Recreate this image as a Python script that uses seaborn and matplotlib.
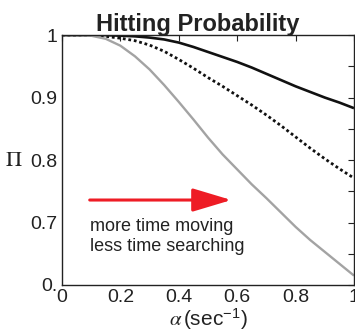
import numpy as np
import pandas as pd
import matplotlib
matplotlib.use("Agg")
import matplotlib.pyplot as plt
import seaborn as sns

alpha = [0.0, 0.05, 0.1, 0.15, 0.2, 0.25, 0.3, 0.35, 0.4, 0.45, 0.5,
         0.55, 0.6, 0.65, 0.7, 0.75, 0.8, 0.85, 0.9, 0.95, 1.0]
pi_solid = [1.0, 1.0, 1.0, 1.0, 0.999, 0.998, 0.996, 0.993, 0.988, 0.981, 0.973,
            0.965, 0.957, 0.948, 0.938, 0.928, 0.918, 0.909, 0.9, 0.892, 0.883]
pi_dotted = [1.0, 1.0, 1.0, 0.998, 0.995, 0.991, 0.984, 0.974, 0.961, 0.947, 0.932,
             0.918, 0.903, 0.888, 0.872, 0.855, 0.837, 0.819, 0.802, 0.786, 0.771]
pi_gray = [1.0, 1.0, 0.999, 0.994, 0.983, 0.966, 0.945, 0.92, 0.893, 0.865, 0.836,
           0.809, 0.785, 0.761, 0.739, 0.716, 0.693, 0.672, 0.653, 0.634, 0.615]

series_names = ["solid", "dotted", "gray"]
x_ticks = [0, 0.2, 0.4, 0.6, 0.8, 1]
x_tick_labels = ["0", "0.2", "0.4", "0.6", "0.8", "1"]
y_ticks = [0.6, 0.7, 0.8, 0.9, 1.0]
y_tick_labels = ["0.", "0.7", "0.8", "0.9", "1"]
y_minor = [0.65, 0.75, 0.85, 0.95]

title = "Hitting Probability"
annotation = "more time moving\nless time searching"

df = pd.DataFrame({
    "alpha": alpha * 3,
    "Pi": pi_solid + pi_dotted + pi_gray,
    "series": [s for s in series_names for _ in alpha],
})

sns.set_theme(style="white")
plt.rcParams["font.family"] = ["Liberation Sans", "DejaVu Sans"]
plt.rcParams["mathtext.fontset"] = "stix"

fig = plt.figure(figsize=(3.55, 3.31), dpi=100)
ax = fig.add_axes([0.1746, 0.139, 0.8226, 0.755])

palette = {"solid": "#111111", "dotted": "#111111", "gray": "#a3a3a3"}
sns.lineplot(data=df, x="alpha", y="Pi", hue="series", palette=palette,
             legend=False, ax=ax, estimator=None, sort=True)
lines = ax.get_lines()
styles = {"solid": ("-", 1.9), "dotted": ((0, (1.0, 1.0)), 2.0), "gray": ("-", 1.7)}
for ln, name in zip(lines, series_names):
    ls, lw = styles[name]
    ln.set_linestyle(ls)
    ln.set_linewidth(lw)
    ln.set_solid_capstyle("butt")
    ln.set_solid_joinstyle("round")

ax.set_xlim(0, 1)
ax.set_ylim(0.6, 1.0)
ax.set_xticks(x_ticks)
ax.set_xticklabels(x_tick_labels)
ax.set_yticks(y_ticks)
ax.set_yticklabels(y_tick_labels)
ax.set_yticks(y_minor, minor=True)
ax.tick_params(axis="both", which="both", direction="in", top=True, right=True,
               length=4, width=0.8, color="#222222", labelsize=14,
               labelcolor="#222222", pad=3.5)
ax.tick_params(axis="x", pad=3)
for sp in ax.spines.values():
    sp.set_visible(True)
    sp.set_color("#222222")
    sp.set_linewidth(1.0)

ax.set_xlabel(r"$\alpha\,$(sec$^{\mathregular{-1}}$)", fontsize=15, color="#222222", labelpad=0)
ax.set_ylabel("")
ax.text(-0.166, 0.5, r"$\Pi$", transform=ax.transAxes, fontsize=16,
        color="#222222", ha="center", va="center")
ax.set_title(title, fontsize=17, fontweight="bold", color="#222222", pad=3, x=0.464)

ax.annotate("", xy=(0.58, 0.736), xytext=(0.095, 0.736),
            arrowprops=dict(arrowstyle="-|>,head_length=2.0,head_width=0.6",
                            color="#ee1c25", lw=2.2, shrinkA=0, shrinkB=0))
ax.text(0.095, 0.707, annotation, fontsize=13, color="#222222",
        ha="left", va="top", linespacing=1.2)

fig.savefig("out.png", dpi=100)
